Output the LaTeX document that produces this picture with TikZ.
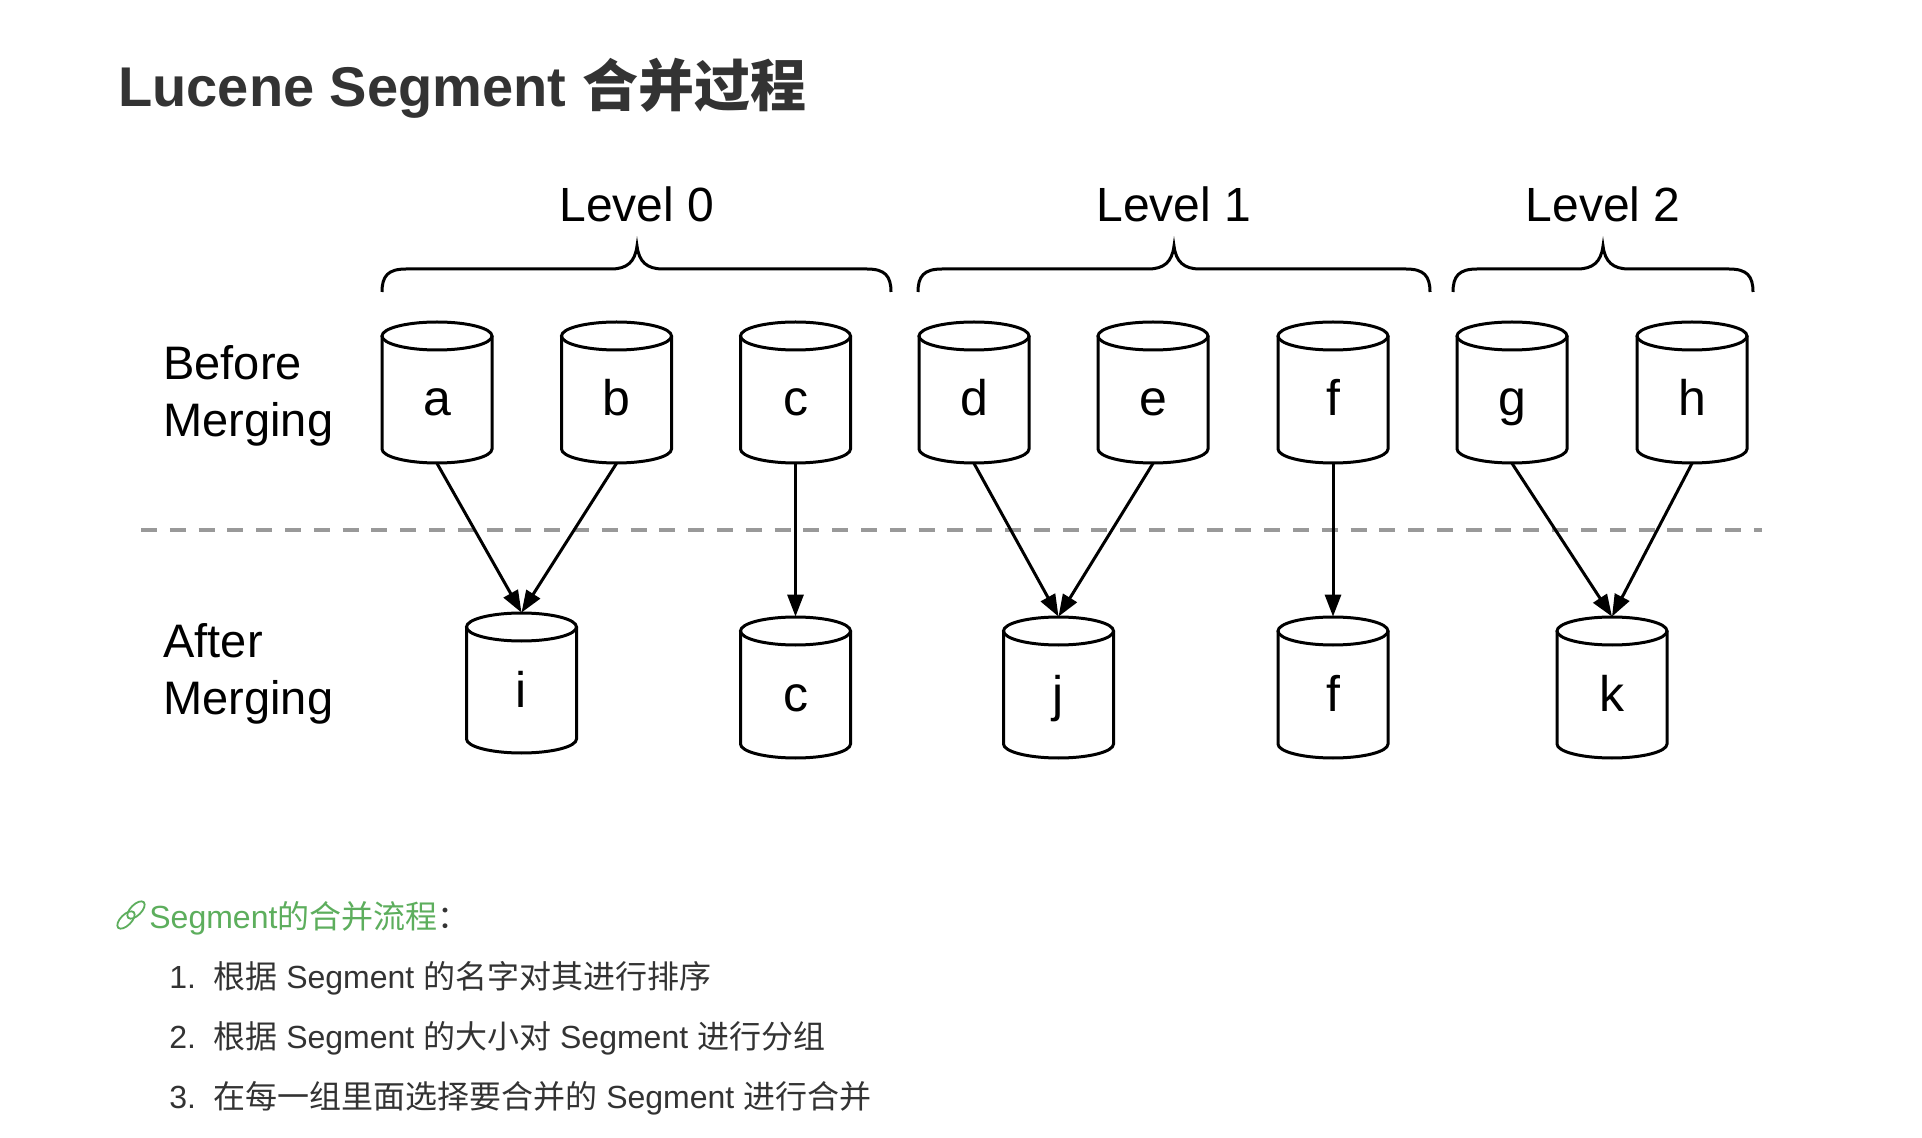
\documentclass[tikz,border=0pt]{standalone}
\usepackage{fontspec}
\setmainfont{Liberation Sans}
\newfontfamily\cjk{Noto Sans CJK SC}
\usetikzlibrary{arrows.meta}
\definecolor{titlegray}{HTML}{333333}
\definecolor{dashgray}{HTML}{999999}
\definecolor{linkgreen}{HTML}{5DAE5D}

\newcommand\segdrum[6]{%
  \node[drumbox, minimum height={(#4-#3)*0.5pt}] (#1) at (#2, {(#3+#4)/2}) {};
  \draw[drumline] (#2, #3+14) ellipse [x radius=27.5pt, y radius=7pt];
  \draw[drumline] (#2-55, #3+14) -- (#2-55, #4-14)
     .. controls (#2-55, #4-6.3) and (#2-30.4, #4) .. (#2, #4)
     .. controls (#2+30.4, #4) and (#2+55, #4-6.3) .. (#2+55, #4-14)
     -- (#2+55, #3+14);
  \node[lbl] (#1l) at (#2, #6) {#5};
}
\newcommand\levelbrace[3]{%
  \draw[bracel] (#1,292) .. controls (#1,276) and (#1+6,269) .. (#1+24,269)
    -- (#3-26,269) .. controls (#3-10,269) and (#3-2,262) .. (#3,246)
    .. controls (#3+2,262) and (#3+10,269) .. (#3+26,269)
    -- (#2-24,269) .. controls (#2-6,269) and (#2,276) .. (#2,292);
}

\begin{document}
\begin{tikzpicture}[x=0.5pt,y=-0.5pt,
  drumline/.style={line width=1.5pt, black},
  drumbox/.style={inner sep=0pt, minimum width=55pt, draw=none},
  lbl/.style={font=\fontsize{25pt}{30pt}\selectfont, inner sep=0pt, anchor=base},
  lvl/.style={font=\fontsize{24pt}{28pt}\selectfont, inner sep=0pt, anchor=base},
  side/.style={font=\fontsize{23.5pt}{28pt}\selectfont, inner sep=0pt, anchor=base west},
  flow/.style={line width=1.5pt, -{Triangle[length=11pt,width=8pt]}},
  bracel/.style={line width=1.5pt},
  sep/.style={line width=1.75pt, dashgray, dash pattern=on 8pt off 6.4pt},
  body/.style={font=\fontsize{16pt}{19pt}\selectfont, inner sep=0pt, anchor=base west, text=titlegray},
]
\useasboundingbox (0,0) rectangle (1922,1138);
\fill[white] (0,0) rectangle (1922,1138);

% title
\node[anchor=base west, inner sep=0pt, text=titlegray, font=\fontsize{28pt}{32pt}\selectfont\bfseries] (title) at (118,107) {Lucene Segment {\cjk 合并过程}};

% levels
\node[lvl] (lvl0) at (637,222) {Level 0};
\node[lvl] (lvl1) at (1174,222) {Level 1};
\node[lvl] (lvl2) at (1603,222) {Level 2};
\levelbrace{382}{891}{637}
\levelbrace{918}{1430}{1174}
\levelbrace{1453}{1753}{1603}

% side labels
\node[side] (before1) at (163,380) {Before};
\node[side] (before2) at (163,437) {Merging};
\node[side] (after1) at (163,657) {After};
\node[side] (after2) at (163,714) {Merging};

% top row
\segdrum{a}{437}{322}{463}{a}{416}
\segdrum{b}{616.5}{322}{463}{b}{416}
\segdrum{c}{795.5}{322}{463}{c}{416}
\segdrum{d}{974}{322}{463}{d}{416}
\segdrum{e}{1153}{322}{463}{e}{416}
\segdrum{f}{1333}{322}{463}{f}{416}
\segdrum{g}{1512}{322}{463}{g}{416}
\segdrum{h}{1692}{322}{463}{h}{416}

% bottom row
\segdrum{i}{521.5}{613}{753}{i}{707}
\segdrum{c2}{795.5}{617}{758}{c}{711}
\segdrum{j}{1058.5}{617}{758}{j}{711}
\segdrum{f2}{1333}{617}{758}{f}{711}
\segdrum{k}{1612}{617}{758}{k}{711}

% separator
\coordinate (sepL) at (141,530);
\coordinate (sepR) at (1762,530);
\draw[sep] (sepL) -- (sepR);

% connectors
\draw[flow] (a.south) -- (i.north);
\draw[flow] (b.south) -- (i.north);
\draw[flow] (c.south) -- (c2.north);
\draw[flow] (d.south) -- (j.north);
\draw[flow] (e.south) -- (j.north);
\draw[flow] (f.south) -- (f2.north);
\draw[flow] (g.south) -- (k.north);
\draw[flow] (h.south) -- (k.north);

% link icon
\begin{scope}[linkgreen, line width=0.9pt]
  \draw[rotate around={45:(126,920)}] (126,920) ellipse [x radius=5.5pt, y radius=2.7pt];
  \draw[rotate around={45:(136,910)}] (136,910) ellipse [x radius=5.5pt, y radius=2.7pt];
\end{scope}

% text below
\node[body] (flowhead) at (149,928) {\textcolor{linkgreen}{Segment{\cjk 的合并流程}}{\cjk ：}};
\node[body] (n1) at (169,988) {1.};
\node[body] (t1) at (213,988) {{\cjk 根据} Segment {\cjk 的名字对其进行排序}};
\node[body] (n2) at (169,1048) {2.};
\node[body] (t2) at (213,1048) {{\cjk 根据} Segment {\cjk 的大小对} Segment {\cjk 进行分组}};
\node[body] (n3) at (169,1108) {3.};
\node[body] (t3) at (213,1108) {{\cjk 在每一组里面选择要合并的} Segment {\cjk 进行合并}};
\end{tikzpicture}
\end{document}
